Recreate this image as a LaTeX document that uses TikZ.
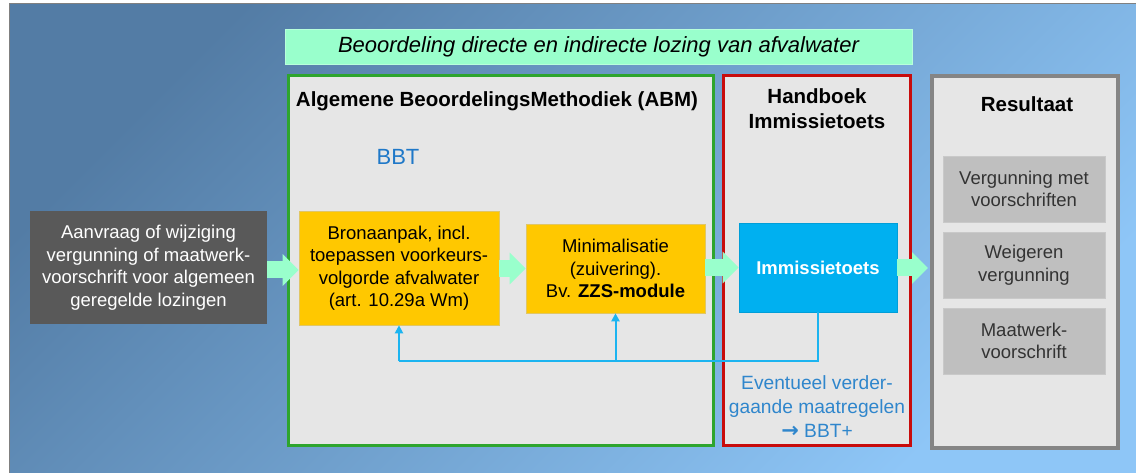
\documentclass[tikz,border=0pt]{standalone}
\usepackage{fontspec}
\setmainfont{Liberation Sans}
\newfontfamily\arrowfont{DejaVu Sans}
\usetikzlibrary{arrows.meta}
\definecolor{bgA}{HTML}{537CA5}
\definecolor{bgB}{HTML}{8EC6F7}
\definecolor{panelgray}{HTML}{E6E6E6}
\definecolor{abmgreen}{HTML}{2EA52E}
\definecolor{hbred}{HTML}{C80C0C}
\definecolor{resgray}{HTML}{858585}
\definecolor{mint}{HTML}{99FFCC}
\definecolor{ygold}{HTML}{FFC800}
\definecolor{skyblue}{HTML}{00B0F0}
\definecolor{fbblue}{HTML}{1CB4F0}
\definecolor{txtblue}{HTML}{1F78C8}
\definecolor{evblue}{HTML}{2F86CC}
\definecolor{darkbox}{HTML}{595959}
\definecolor{resbox}{HTML}{BFBFBF}
\newcommand\myfs{\fontsize{18.5}{22.5}\selectfont}
\newcommand\headfs{\fontsize{20.5}{25}\selectfont}
\tikzset{
  panel/.style={draw, fill=panelgray, line width=3pt, inner sep=0pt},
  box/.style={inner sep=0pt, align=center, font=\myfs},
  ybox/.style={box, fill=ygold, draw=ygold!80!black!60, line width=0.6pt},
  rbox/.style={box, fill=resbox, draw=resbox!85!white, line width=0.8pt, text=black!80, minimum width=162pt, minimum height=66pt},
  lbl/.style={inner sep=0pt, align=center, font=\myfs},
  head/.style={lbl, font=\headfs\bfseries},
  blockarrow/.style={line width=17pt, draw=mint, -{Triangle[length=16pt,width=31pt]}},
  fb/.style={draw=fbblue, line width=2pt},
  fbarrow/.style={fb, -{Triangle[length=8pt,width=8pt]}}
}
\begin{document}
\begin{tikzpicture}[x=1pt,y=-1pt]
\useasboundingbox (0,0) rectangle (1136,473);
\fill[white] (0,0) rectangle (1136,473);
\shade[top color=bgA, bottom color=bgB, shading angle=45] (9,4) rectangle (1136,473);
\draw[gray, line width=1pt] (9,473) -- (9,4) -- (1136,4);

% title bar
\node[box, fill=mint, draw=mint!70!white, line width=0.8pt, minimum width=627pt, minimum height=35pt,
  font=\fontsize{22}{26}\selectfont\itshape] (title) at (598.5,46.5) {Beoordeling directe en indirecte lozing van afvalwater};

% panels
\node[panel, draw=abmgreen, minimum width=425pt, minimum height=370pt] (abm) at (501,260.5) {};
\node[panel, draw=hbred, minimum width=187pt, minimum height=370pt] (hb) at (817,260.5) {};
\node[panel, draw=resgray, line width=4pt, minimum width=186pt, minimum height=372pt] (res) at (1025,262) {};

% panel titles
\node[head] (abmtitle) at (497,101) {Algemene BeoordelingsMethodiek (ABM)};
\node[head] (hbtitle) at (817,108.5) {Handboek\\Immissietoets};
\node[head] (restitle) at (1027,104) {Resultaat};
\node[lbl, text=txtblue, font=\fontsize{22}{26}\selectfont] (bbt) at (398,157) {BBT};

% main boxes
\node[box, fill=darkbox, text=white, minimum width=237pt, minimum height=113pt] (aanvraag) at (148.5,267.5)
  {Aanvraag of wijziging\\vergunning of maatwerk-\\voorschrift voor algemeen\\geregelde lozingen};
\node[ybox, minimum width=200pt, minimum height=114pt] (bron) at (399,268)
  {Bronaanpak, incl.\\toepassen voorkeurs-\\volgorde afvalwater\\(art. 10.29a Wm)};
\node[ybox, minimum width=179pt, minimum height=89pt] (minim) at (615.5,268.5)
  {Minimalisatie\\(zuivering).\\Bv. \textbf{ZZS-module}};
\node[box, fill=skyblue, draw=skyblue!90!black, line width=0.6pt, text=white, font=\myfs\bfseries,
  minimum width=158pt, minimum height=89pt] (imm) at (818,267.5) {Immissietoets};

% result boxes
\node[rbox] (r1) at (1024,189) {Vergunning met\\voorschriften};
\node[rbox] (r2) at (1024,265) {Weigeren\\vergunning};
\node[rbox] (r3) at (1024,341) {Maatwerk-\\voorschrift};

% eventueel text
\node[lbl, text=evblue, font=\fontsize{19.2}{24}\selectfont] (ev) at (817,407)
  {Eventueel verder-\\gaande maatregelen\\{\arrowfont\bfseries\fontsize{21}{24}\selectfont →} BBT+};

% block arrows
\coordinate (resin) at (928,268);
\draw[blockarrow] (aanvraag.east |- 0,270) -- (bron.west |- 0,270);
\draw[blockarrow] (bron.east |- minim.west) -- (minim.west);
\draw[blockarrow] (minim.east |- imm.west) -- (imm.west);
\draw[blockarrow] (imm.east |- resin) -- (resin);

% feedback lines
\coordinate (fby) at (0,361);
\draw[fb] (imm.south) -- (imm.south |- fby) -- (bron.south |- fby);
\draw[fbarrow] (bron.south |- fby) -- (bron.south);
\draw[fbarrow] (minim.south |- fby) -- (minim.south);
\end{tikzpicture}
\end{document}
